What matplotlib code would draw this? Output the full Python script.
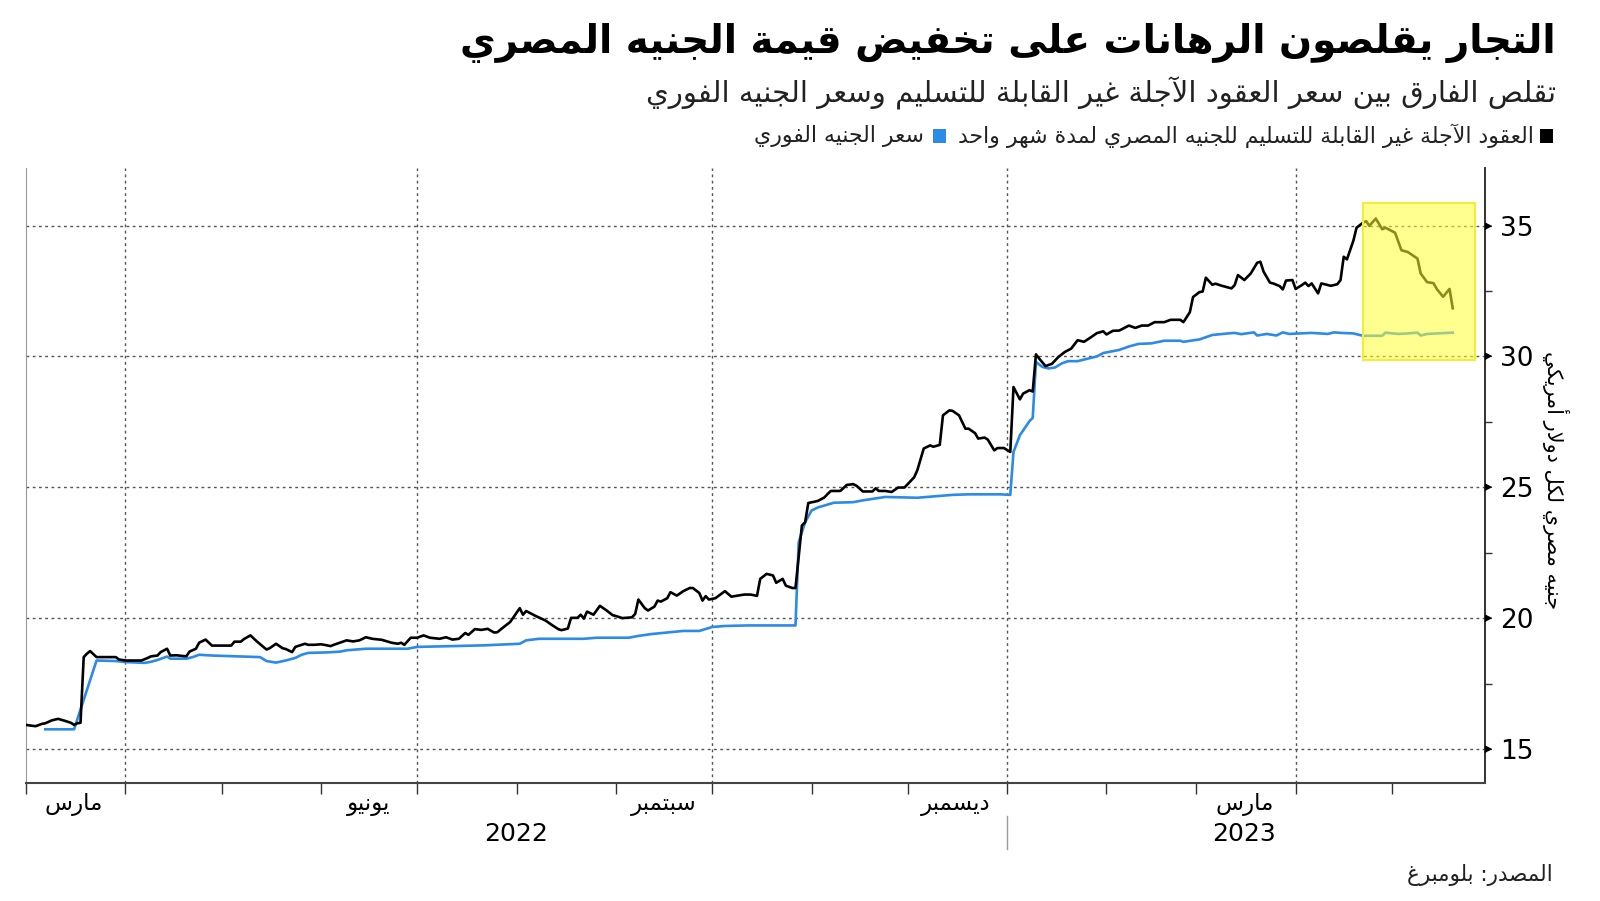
import matplotlib
matplotlib.use('Agg')
import matplotlib.pyplot as plt
import matplotlib.dates as mdates
import matplotlib.transforms as mtransforms
from matplotlib.patches import Rectangle
import pandas as pd

# Arabic text needs joining forms + right-to-left order (matplotlib does no shaping)
DUAL = {'ئ': 0xFE89, 'ب': 0xFE8F, 'ت': 0xFE95, 'ث': 0xFE99, 'ج': 0xFE9D, 'ح': 0xFEA1,
        'خ': 0xFEA5, 'س': 0xFEB1, 'ش': 0xFEB5, 'ص': 0xFEB9, 'ض': 0xFEBD, 'ط': 0xFEC1,
        'ظ': 0xFEC5, 'ع': 0xFEC9, 'غ': 0xFECD, 'ف': 0xFED1, 'ق': 0xFED5, 'ك': 0xFED9,
        'ل': 0xFEDD, 'م': 0xFEE1, 'ن': 0xFEE5, 'ه': 0xFEE9, 'ي': 0xFEF1}
RIGHT = {'آ': 0xFE81, 'أ': 0xFE83, 'ؤ': 0xFE85, 'إ': 0xFE87, 'ا': 0xFE8D, 'ة': 0xFE93,
         'د': 0xFEA9, 'ذ': 0xFEAB, 'ر': 0xFEAD, 'ز': 0xFEAF, 'و': 0xFEED, 'ى': 0xFEEF}
LAMALEF = {'آ': 0xFEF5, 'أ': 0xFEF7, 'إ': 0xFEF9, 'ا': 0xFEFB}


def ar(text):
    res = []
    i = 0
    n = len(text)
    while i < n:
        c = text[i]
        prev = text[i - 1] if i > 0 else ''
        nxt = text[i + 1] if i + 1 < n else ''
        if c == 'ل' and nxt in LAMALEF:
            res.append(chr(LAMALEF[nxt] + (1 if prev in DUAL else 0)))
            i += 2
            continue
        if c in DUAL:
            p = prev in DUAL
            q = nxt in DUAL or nxt in RIGHT
            res.append(chr(DUAL[c] + (3 if p and q else 1 if p else 2 if q else 0)))
        elif c in RIGHT:
            res.append(chr(RIGHT[c] + (1 if prev in DUAL else 0)))
        elif c == 'ء':
            res.append(chr(0xFE80))
        else:
            res.append(c)
        i += 1
    return ''.join(res)[::-1]


# data
ndf_dates = ['2022-03-01', '2022-03-02', '2022-03-04', '2022-03-06', '2022-03-07', '2022-03-09',
             '2022-03-11', '2022-03-13', '2022-03-15', '2022-03-16', '2022-03-17', '2022-03-18',
             '2022-03-19', '2022-03-20', '2022-03-21', '2022-03-23', '2022-03-29', '2022-03-30',
             '2022-04-01', '2022-04-06', '2022-04-08', '2022-04-09', '2022-04-11', '2022-04-12',
             '2022-04-14', '2022-04-15', '2022-04-17', '2022-04-19', '2022-04-20', '2022-04-21',
             '2022-04-23', '2022-04-24', '2022-04-26', '2022-04-28', '2022-05-04', '2022-05-05',
             '2022-05-07', '2022-05-08', '2022-05-10', '2022-05-12', '2022-05-15', '2022-05-16',
             '2022-05-18', '2022-05-20', '2022-05-21', '2022-05-23', '2022-05-24', '2022-05-27',
             '2022-05-28', '2022-05-30', '2022-06-01', '2022-06-02', '2022-06-04', '2022-06-05',
             '2022-06-09', '2022-06-11', '2022-06-13', '2022-06-15', '2022-06-17', '2022-06-20',
             '2022-06-23', '2022-06-25', '2022-06-26', '2022-06-27', '2022-06-29', '2022-07-01',
             '2022-07-03', '2022-07-05', '2022-07-08', '2022-07-10', '2022-07-12', '2022-07-14',
             '2022-07-16', '2022-07-17', '2022-07-19', '2022-07-21', '2022-07-23', '2022-07-25',
             '2022-07-26', '2022-07-28', '2022-07-30', '2022-08-02', '2022-08-03', '2022-08-04',
             '2022-08-07', '2022-08-10', '2022-08-12', '2022-08-14', '2022-08-15', '2022-08-17',
             '2022-08-18', '2022-08-20', '2022-08-21', '2022-08-22', '2022-08-23', '2022-08-25',
             '2022-08-27', '2022-08-29', '2022-08-31', '2022-09-01', '2022-09-03', '2022-09-06',
             '2022-09-07', '2022-09-08', '2022-09-10', '2022-09-11', '2022-09-13', '2022-09-14',
             '2022-09-15', '2022-09-17', '2022-09-18', '2022-09-20', '2022-09-22', '2022-09-24',
             '2022-09-25', '2022-09-27', '2022-09-28', '2022-09-29', '2022-09-30', '2022-10-02',
             '2022-10-05', '2022-10-07', '2022-10-09', '2022-10-11', '2022-10-13', '2022-10-15',
             '2022-10-16', '2022-10-18', '2022-10-20', '2022-10-21', '2022-10-23', '2022-10-24',
             '2022-10-26', '2022-10-27', '2022-10-29', '2022-10-30', '2022-10-31', '2022-11-02',
             '2022-11-03', '2022-11-05', '2022-11-06', '2022-11-07', '2022-11-10', '2022-11-12',
             '2022-11-14', '2022-11-15', '2022-11-17', '2022-11-20', '2022-11-21', '2022-11-22',
             '2022-11-24', '2022-11-26', '2022-11-28', '2022-11-30', '2022-12-02', '2022-12-03',
             '2022-12-04', '2022-12-06', '2022-12-08', '2022-12-09', '2022-12-11', '2022-12-12',
             '2022-12-14', '2022-12-15', '2022-12-17', '2022-12-19', '2022-12-20', '2022-12-22',
             '2022-12-23', '2022-12-25', '2022-12-26', '2022-12-28', '2022-12-29', '2022-12-31',
             '2023-01-02', '2023-01-03', '2023-01-05', '2023-01-06', '2023-01-08', '2023-01-09',
             '2023-01-10', '2023-01-11', '2023-01-13', '2023-01-15', '2023-01-17', '2023-01-19',
             '2023-01-21', '2023-01-23', '2023-01-25', '2023-01-27', '2023-01-29', '2023-01-31',
             '2023-02-01', '2023-02-03', '2023-02-05', '2023-02-08', '2023-02-10', '2023-02-12',
             '2023-02-14', '2023-02-16', '2023-02-19', '2023-02-21', '2023-02-24', '2023-02-25',
             '2023-02-27', '2023-02-28', '2023-03-02', '2023-03-03', '2023-03-04', '2023-03-06',
             '2023-03-07', '2023-03-09', '2023-03-12', '2023-03-13', '2023-03-14', '2023-03-16',
             '2023-03-18', '2023-03-20', '2023-03-21', '2023-03-22', '2023-03-24', '2023-03-25',
             '2023-03-27', '2023-03-28', '2023-03-29', '2023-03-31', '2023-04-01', '2023-04-03',
             '2023-04-04', '2023-04-05', '2023-04-06', '2023-04-08', '2023-04-09', '2023-04-11',
             '2023-04-12', '2023-04-14', '2023-04-15', '2023-04-16', '2023-04-17', '2023-04-19',
             '2023-04-20', '2023-04-22', '2023-04-23', '2023-04-24', '2023-04-26', '2023-04-28',
             '2023-04-29', '2023-05-02', '2023-05-04', '2023-05-06', '2023-05-09', '2023-05-10',
             '2023-05-12', '2023-05-14', '2023-05-15', '2023-05-17', '2023-05-19', '2023-05-20']
ndf_values = [15.92, 15.90, 15.87, 15.96, 15.98, 16.09, 16.15, 16.08, 16.00, 15.92, 15.98, 16.00,
              18.51, 18.64, 18.74, 18.51, 18.51, 18.42, 18.38, 18.38, 18.48, 18.54, 18.57, 18.70,
              18.83, 18.57, 18.58, 18.55, 18.54, 18.72, 18.83, 19.06, 19.18, 18.95, 18.95, 19.10,
              19.10, 19.20, 19.34, 19.11, 18.80, 18.85, 19.02, 18.85, 18.82, 18.70, 18.90, 19.02,
              18.98, 18.98, 19.00, 18.98, 18.93, 18.98, 19.15, 19.11, 19.15, 19.27, 19.21, 19.17,
              19.06, 19.02, 19.06, 18.98, 19.25, 19.25, 19.34, 19.25, 19.21, 19.27, 19.18, 19.21,
              19.43, 19.36, 19.58, 19.55, 19.59, 19.45, 19.46, 19.66, 19.85, 20.38, 20.13, 20.27,
              20.08, 19.91, 19.74, 19.58, 19.54, 19.60, 20.01, 20.01, 20.13, 19.98, 20.25, 20.13,
              20.47, 20.30, 20.11, 20.08, 20.00, 20.03, 20.16, 20.71, 20.38, 20.29, 20.44, 20.67,
              20.63, 20.76, 20.99, 20.86, 21.03, 21.15, 21.15, 20.96, 20.67, 20.84, 20.71, 20.76,
              21.03, 20.82, 20.86, 20.90, 20.90, 20.85, 21.50, 21.69, 21.63, 21.35, 21.50, 21.24,
              21.15, 21.15, 23.54, 23.66, 24.40, 24.45, 24.48, 24.61, 24.74, 24.86, 24.86, 25.09,
              25.12, 25.06, 24.84, 24.84, 24.96, 24.86, 24.86, 24.82, 24.99, 24.99, 25.25, 25.38,
              25.65, 26.48, 26.60, 26.55, 26.62, 27.75, 27.94, 27.92, 27.75, 27.24, 27.24, 27.07,
              26.86, 26.90, 26.82, 26.41, 26.50, 26.50, 26.35, 28.83, 28.36, 28.58, 28.71, 28.66,
              30.08, 29.92, 29.63, 29.72, 29.98, 30.17, 30.30, 30.62, 30.56, 30.72, 30.89, 30.96,
              30.84, 30.98, 30.99, 31.18, 31.09, 31.18, 31.18, 31.31, 31.31, 31.40, 31.40, 31.31,
              31.69, 32.27, 32.46, 32.48, 33.01, 32.74, 32.78, 32.70, 32.60, 32.73, 33.11, 32.92,
              33.17, 33.58, 33.62, 33.24, 32.82, 32.79, 32.69, 32.56, 32.90, 32.92, 32.58, 32.73,
              32.82, 32.69, 32.79, 32.41, 32.79, 32.73, 32.70, 32.76, 32.92, 33.81, 33.71, 34.42,
              34.92, 35.11, 35.17, 34.99, 35.27, 34.86, 34.92, 34.73, 34.06, 33.99, 33.74, 33.17,
              32.84, 32.80, 32.58, 32.28, 32.58, 31.84]

spot_dates = ['2022-03-07', '2022-03-16', '2022-03-23', '2022-03-29', '2022-04-01', '2022-04-07',
              '2022-04-09', '2022-04-11', '2022-04-14', '2022-04-15', '2022-04-20', '2022-04-22',
              '2022-04-24', '2022-04-28', '2022-05-13', '2022-05-15', '2022-05-18', '2022-05-21',
              '2022-05-24', '2022-05-26', '2022-05-28', '2022-06-03', '2022-06-07', '2022-06-09',
              '2022-06-15', '2022-06-28', '2022-07-01', '2022-07-12', '2022-07-22', '2022-08-02',
              '2022-08-04', '2022-08-08', '2022-08-22', '2022-08-26', '2022-09-05', '2022-09-08',
              '2022-09-12', '2022-09-17', '2022-09-22', '2022-09-27', '2022-10-01', '2022-10-05',
              '2022-10-12', '2022-10-27', '2022-10-28', '2022-10-30', '2022-11-01', '2022-11-03',
              '2022-11-08', '2022-11-14', '2022-11-17', '2022-11-24', '2022-12-04', '2022-12-15',
              '2022-12-20', '2022-12-30', '2023-01-02', '2023-01-03', '2023-01-05', '2023-01-08',
              '2023-01-09', '2023-01-10', '2023-01-12', '2023-01-14', '2023-01-16', '2023-01-18',
              '2023-01-20', '2023-01-23', '2023-01-25', '2023-01-29', '2023-01-31', '2023-02-05',
              '2023-02-08', '2023-02-11', '2023-02-15', '2023-02-19', '2023-02-24', '2023-02-25',
              '2023-03-02', '2023-03-06', '2023-03-11', '2023-03-13', '2023-03-15', '2023-03-19',
              '2023-03-20', '2023-03-23', '2023-03-26', '2023-03-28', '2023-03-30', '2023-04-06',
              '2023-04-11', '2023-04-13', '2023-04-15', '2023-04-19', '2023-04-22', '2023-04-28',
              '2023-04-29', '2023-05-03', '2023-05-06', '2023-05-09', '2023-05-10', '2023-05-12',
              '2023-05-20']
spot_values = [15.75, 15.75, 18.38, 18.36, 18.32, 18.29, 18.33, 18.40, 18.53, 18.45, 18.45, 18.51,
               18.60, 18.57, 18.51, 18.36, 18.30, 18.38, 18.48, 18.60, 18.67, 18.69, 18.72, 18.77,
               18.83, 18.83, 18.90, 18.93, 18.96, 19.02, 19.15, 19.21, 19.21, 19.25, 19.25, 19.32,
               19.39, 19.45, 19.51, 19.51, 19.66, 19.70, 19.72, 19.72, 22.90, 23.66, 24.11, 24.23,
               24.41, 24.43, 24.50, 24.63, 24.60, 24.71, 24.73, 24.73, 24.71, 26.35, 26.99, 27.53,
               27.65, 29.79, 29.60, 29.54, 29.58, 29.73, 29.82, 29.82, 29.88, 30.00, 30.13, 30.25,
               30.38, 30.48, 30.50, 30.60, 30.60, 30.56, 30.65, 30.82, 30.88, 30.90, 30.85, 30.92,
               30.80, 30.86, 30.80, 30.92, 30.86, 30.90, 30.86, 30.92, 30.90, 30.88, 30.79, 30.79,
               30.91, 30.86, 30.88, 30.91, 30.80, 30.86, 30.91]

title = 'التجار يقلصون الرهانات على تخفيض قيمة الجنيه المصري'
subtitle = 'تقلص الفارق بين سعر العقود الآجلة غير القابلة للتسليم وسعر الجنيه الفوري'
legend_ndf = 'العقود الآجلة غير القابلة للتسليم للجنيه المصري لمدة شهر واحد'
legend_spot = 'سعر الجنيه الفوري'
y_label = 'جنيه مصري لكل دولار أمريكي'
source = 'المصدر: بلومبرغ'
month_labels = ['مارس', 'يونيو', 'سبتمبر', 'ديسمبر', 'مارس']
month_label_dates = ['2022-03-16', '2022-06-16', '2022-09-16', '2022-12-16', '2023-03-16']
year_labels = ['2022', '2023']
y_ticks = [15, 20, 25, 30, 35]
highlight_start, highlight_end = '2023-04-22', '2023-05-27'
highlight_low, highlight_high = 29.87, 35.87

plt.rcParams['font.family'] = ['DejaVu Sans']

fig = plt.figure(figsize=(16, 9.01), dpi=100)
ax = fig.add_axes([0.01625, 0.131, 0.928 - 0.01625, 0.8135 - 0.131])

ndf_x = pd.to_datetime(ndf_dates)
spot_x = pd.to_datetime(spot_dates)
ax.plot(spot_x, spot_values, color='#2b8be6', lw=1.9, zorder=3)
ax.plot(ndf_x, ndf_values, color='black', lw=1.9, zorder=4)

x0 = mdates.date2num(pd.Timestamp(highlight_start))
x1 = mdates.date2num(pd.Timestamp(highlight_end))
ax.add_patch(Rectangle((x0, highlight_low), x1 - x0, highlight_high - highlight_low,
                       facecolor='#ffff33', alpha=0.55, edgecolor='none', zorder=5))
ax.add_patch(Rectangle((x0, highlight_low), x1 - x0, highlight_high - highlight_low,
                       facecolor='none', edgecolor='#f2ec3a', lw=1.5, zorder=5))

ax.set_xlim(pd.Timestamp('2022-03-01'), pd.Timestamp('2023-05-30'))
ax.set_ylim(13.7, 37.2)

# y axis on the right
ax.yaxis.tick_right()
ax.set_yticks(y_ticks)
ax.set_yticks([17.5, 22.5, 27.5, 32.5], minor=True)
ax.tick_params(axis='y', which='major', length=0, pad=11, labelsize=19)
ax.tick_params(axis='y', which='minor', length=5, width=1, color='#333333', direction='out')
for v in y_ticks:
    ax.axhline(v, color='#555555', lw=1, ls=(0, (2, 2.5)), zorder=1)
tri = mtransforms.blended_transform_factory(ax.transAxes, ax.transData)
ax.plot([1.0] * len(y_ticks), y_ticks, transform=tri, ls='none', clip_on=False, zorder=6,
        marker=[(0, -0.6), (0, 0.6), (1.2, 0)], markersize=9, color='black')

# x axis: month ticks, labels at mid month, quarter grid lines
ax.set_xticks(pd.to_datetime(month_label_dates))
ax.set_xticklabels([ar(m) for m in month_labels])
ax.xaxis.set_minor_locator(mdates.MonthLocator())
ax.tick_params(axis='x', which='major', length=0, pad=7, labelsize=16.5)
ax.tick_params(axis='x', which='minor', length=8, width=1, color='#333333')
for d in ['2022-04-01', '2022-07-01', '2022-10-01', '2023-01-01', '2023-04-01']:
    ax.axvline(pd.Timestamp(d), color='#555555', lw=1, ls=(0, (2, 2.5)), zorder=1)

xt = mtransforms.blended_transform_factory(ax.transData, ax.transAxes)
ax.text(pd.Timestamp('2022-08-01'), -0.083, year_labels[0], transform=xt, ha='center',
        va='center', fontsize=18)
ax.text(pd.Timestamp('2023-03-16'), -0.083, year_labels[1], transform=xt, ha='center',
        va='center', fontsize=18)
ax.plot([pd.Timestamp('2023-01-01')] * 2, [-0.054, -0.107], transform=xt, clip_on=False,
        color='#999999', lw=1)

ax.spines['top'].set_visible(False)
ax.spines['left'].set_color('#999999')
ax.spines['bottom'].set_color('#444444')
ax.spines['bottom'].set_linewidth(1.5)
ax.spines['right'].set_color('#222222')
ax.spines['right'].set_linewidth(1.3)

fig.text(0.9725, 0.467, ar(y_label), rotation=-90, ha='center', va='center', fontsize=15)

# header
fig.text(0.9725, 0.952, ar(title), ha='right', va='center', fontsize=28, fontweight='bold')
fig.text(0.9725, 0.896, ar(subtitle), ha='right', va='center', fontsize=21, color='#222222')

fig.canvas.draw()
renderer = fig.canvas.get_renderer()
sq = 13 / 1600
sqh = 13 / 901
ly = 1 - 136 / 901
fig.patches.append(Rectangle((0.9663 - sq / 2, ly - sqh / 2), sq, sqh, facecolor='black',
                             transform=fig.transFigure, figure=fig))
t1 = fig.text(0.9588, ly, ar(legend_ndf), ha='right', va='center', fontsize=15.8,
              color='#222222')
bb = t1.get_window_extent(renderer)
left = bb.x0 / 1600
fig.patches.append(Rectangle((left - 0.0075 - sq, ly - sqh / 2), sq, sqh, facecolor='#2b8be6',
                             transform=fig.transFigure, figure=fig))
fig.text(left - 0.0075 - sq - 0.0055, ly, ar(legend_spot), ha='right', va='center',
         fontsize=15.8, color='#222222')

fig.text(0.9706, 1 - 875 / 901, ar(source), ha='right', va='center', fontsize=15.5,
         color='#222222')

fig.savefig('out.png', dpi=100)
